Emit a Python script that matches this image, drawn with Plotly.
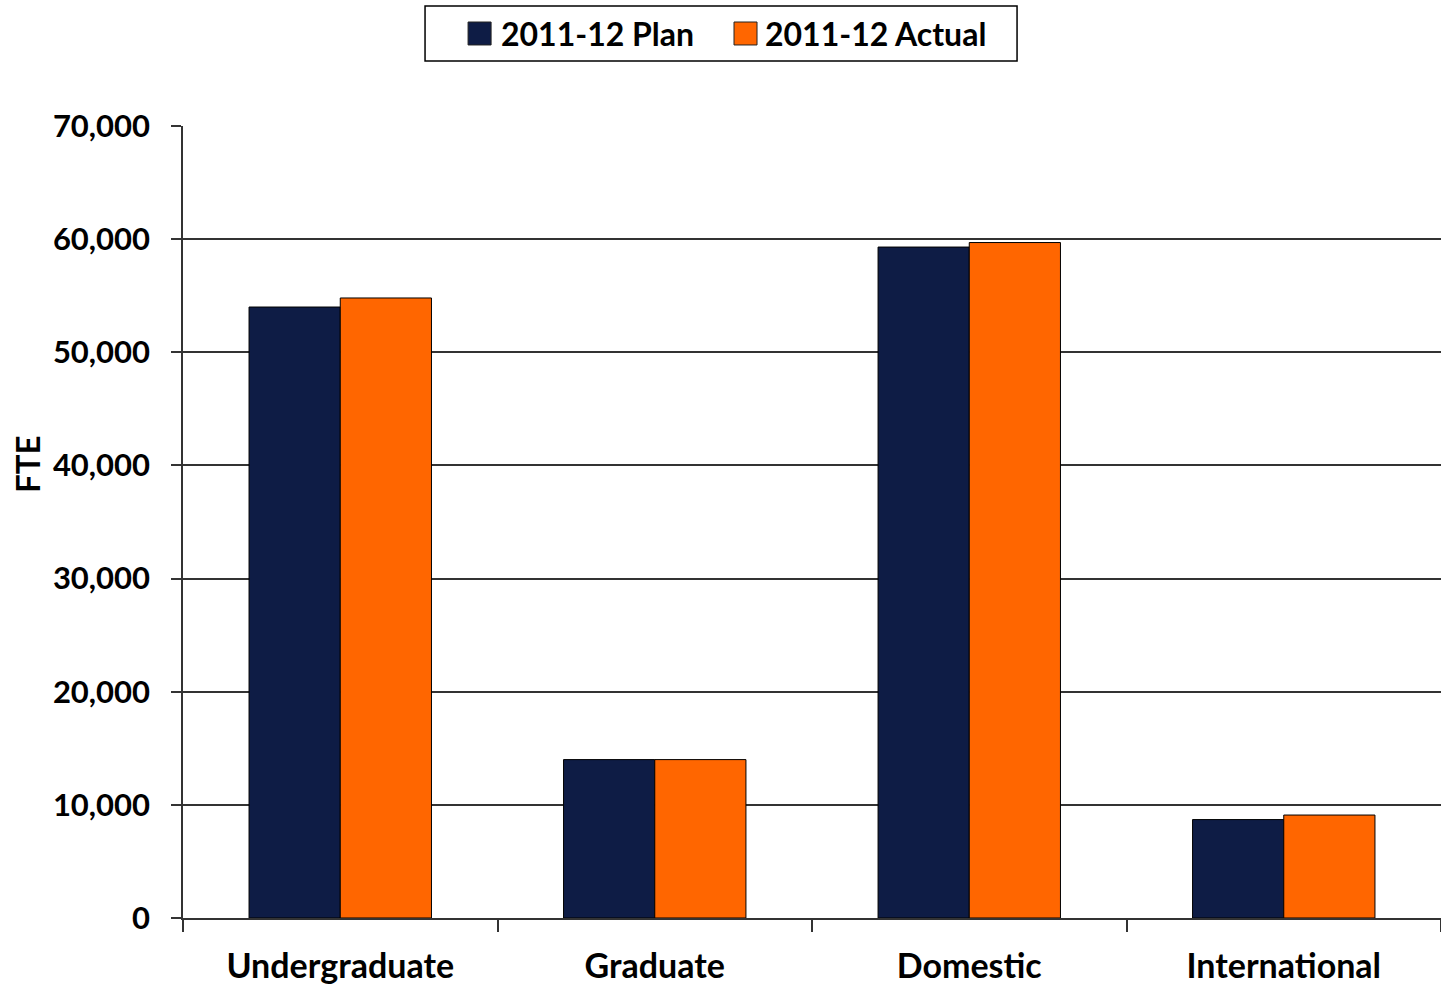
import plotly.graph_objects as go

categories = ["Undergraduate", "Graduate", "Domestic", "International"]
plan_2011_12 = [54000, 14000, 59300, 8700]
actual_2011_12 = [54800, 14000, 59700, 9100]
y_ticks = [0, 10000, 20000, 30000, 40000, 50000, 60000, 70000]
y_tick_labels = ["0", "10,000", "20,000", "30,000", "40,000", "50,000", "60,000", "70,000"]

FONT = "Lato"
NAVY = "#0e1c45"
ORANGE = "#ff6600"

fig = go.Figure()
fig.add_trace(go.Bar(
    name="2011-12 Plan", x=categories, y=plan_2011_12,
    marker=dict(color=NAVY, line=dict(color="#000000", width=1)),
))
fig.add_trace(go.Bar(
    name="2011-12 Actual", x=categories, y=actual_2011_12,
    marker=dict(color=ORANGE, line=dict(color="#000000", width=1)),
))

# Vertical axis title, placed by hand so it sits above the axis midpoint
fig.add_annotation(
    text="FTE", textangle=-90, showarrow=False,
    xref="paper", yref="paper", x=-0.124, y=0.572,
    xanchor="center", yanchor="middle",
    font=dict(size=33, family=FONT, weight="bold", color="#000000"),
)

# Boxed legend above the plot with large colour swatches
legend_box = dict(x0=0.1924, x1=0.6630, y0=1.0821, y1=1.1515)
fig.add_shape(type="rect", xref="paper", yref="paper", **legend_box,
              line=dict(color="#000000", width=1.5), fillcolor="white", layer="above")
legend_items = [
    ("2011-12 Plan", NAVY, 0.2266, 0.2512),
    ("2011-12 Actual", ORANGE, 0.4380, 0.4611),
]
for name, colour, sw_x, txt_x in legend_items:
    fig.add_shape(type="rect", xref="paper", yref="paper",
                  x0=sw_x, x1=sw_x + 0.0183, y0=1.1023, y1=1.1313,
                  line=dict(color="#222222", width=1), fillcolor=colour, layer="above")
    fig.add_annotation(
        text=name, showarrow=False, xref="paper", yref="paper",
        x=txt_x, y=1.1174, xanchor="left", yanchor="middle",
        font=dict(size=32, family=FONT, weight="bold", color="#000000"),
    )

fig.update_layout(
    width=1441, height=986,
    margin=dict(l=183, r=0, t=126, b=68),
    paper_bgcolor="white", plot_bgcolor="white",
    barmode="group", bargap=0.42, bargroupgap=0,
    font=dict(family=FONT, color="#000000"),
    showlegend=False,
    xaxis=dict(
        showline=True, linecolor="#333333", linewidth=1.5,
        ticks="outside", tickson="boundaries", ticklen=12, tickwidth=1.5, tickcolor="#333333",
        tickfont=dict(size=34, family=FONT, weight="bold"),
        ticklabelstandoff=17, automargin=False,
        showgrid=False,
    ),
    yaxis=dict(
        range=[0, 70000], tickvals=y_ticks, ticktext=y_tick_labels,
        showline=True, linecolor="#333333", linewidth=1.5,
        ticks="outside", ticklen=10, tickwidth=1.5, tickcolor="#333333",
        tickfont=dict(size=31, family=FONT, weight="bold"),
        ticklabelstandoff=15, automargin=False,
        showgrid=True, gridcolor="#333333", gridwidth=1.5,
        zeroline=False,
    ),
)

fig.write_html("out.html")
